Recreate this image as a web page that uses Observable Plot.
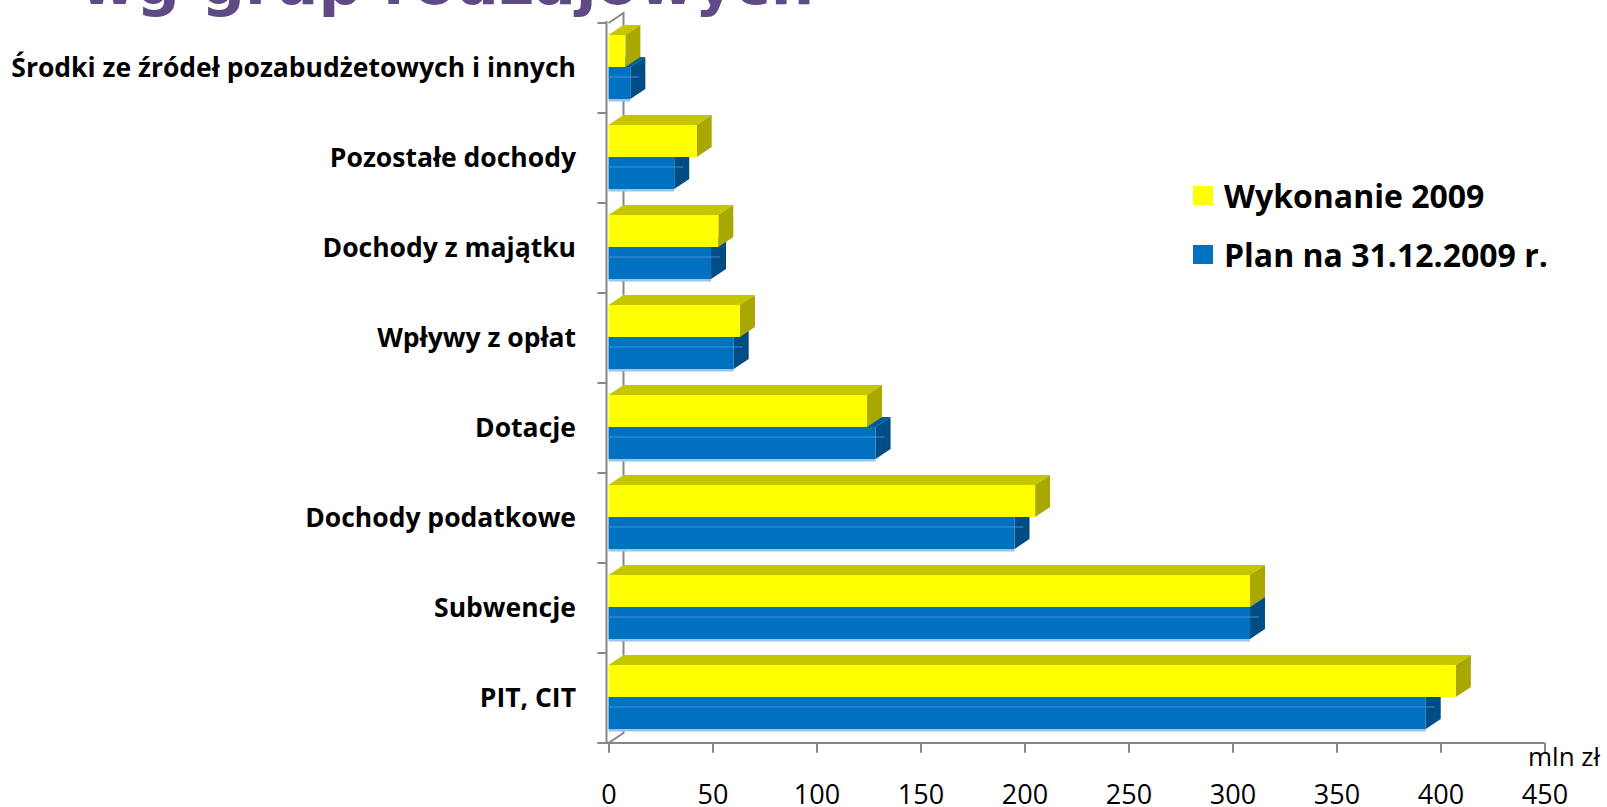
<!DOCTYPE html>
<html>
<head>
<meta charset="utf-8">
<script src="https://cdn.jsdelivr.net/npm/d3@7"></script>
<script src="https://cdn.jsdelivr.net/npm/@observablehq/plot@0.6"></script>
<style>
  html, body { margin: 0; padding: 0; background: #ffffff; overflow: hidden; }
  #wrap { position: relative; width: 1607px; height: 807px; font-family: "Open Sans", sans-serif; overflow: hidden; }
  #title { position: absolute; left: 80px; top: -48px; font-family: "DejaVu Sans", sans-serif; font-size: 61px; line-height: 61px; font-weight: 700; color: #5E4A84; white-space: nowrap; }
  #chart { position: absolute; left: 0; top: 0; }
  .legend { position: absolute; left: 1193px; display: flex; align-items: center; font-size: 32px; font-weight: 700; color: #000; white-space: nowrap; }
  .legend .sw { width: 20px; height: 19px; margin-right: 11px; }
  #unit { position: absolute; left: 1528px; top: 743px; font-size: 26px; line-height: 26px; color: #000; white-space: nowrap; }
  #chart g[aria-label="y-axis tick label"] text { font-weight: 700; }
</style>
</head>
<body>
<div id="wrap">
  <div id="title">wg grup rodzajowych</div>
  <div id="chart"></div>
  <div id="legend"></div>
  <div id="unit">mln zł</div>
</div>
<script>
// ---- data ----
const categories = [
  "Środki ze źródeł pozabudżetowych i innych",
  "Pozostałe dochody",
  "Dochody z majątku",
  "Wpływy z opłat",
  "Dotacje",
  "Dochody podatkowe",
  "Subwencje",
  "PIT, CIT"
];
const seriesNames = ["Wykonanie 2009", "Plan na 31.12.2009 r."];
const wykonanie = [8.1, 42.4, 52.8, 63.2, 124.3, 205.1, 308.4, 407.4];
const plan      = [10.5, 31.6, 49.3, 60.2, 128.4, 195.2, 308.4, 392.9];
const xTicks = [0, 50, 100, 150, 200, 250, 300, 350, 400, 450];
const unitLabel = "mln zł";

// ---- styling ----
const colors = {
  front: ["#FFFF00", "#0070C0"],
  top:   ["#C6C600", "#005A9C"],
  side:  ["#A8A800", "#004C85"],
  edge: "#9DC3E6",
  axis: "#878787"
};
const DX = 15, DY = 10;               // 3D depth (px)
const yelTop = 12, split = 44, bluBot = 76; // offsets inside a 90px band

const rowsW = categories.map((c, i) => ({cat: c, value: wykonanie[i]}));
const rowsP = categories.map((c, i) => ({cat: c, value: plan[i]}));

function poly(g, pts, fill) {
  g.append("path").attr("d", "M" + pts.map(p => p.join(",")).join("L") + "Z").attr("fill", fill);
}

// faces drawn behind the front faces
function backFaces(index, scales, values, dims) {
  const sx = scales.x, sy = scales.y;
  const bw = sy.bandwidth();
  const g = d3.create("svg:g");
  const x0 = sx(0);
  const yT = sy(categories[0]);
  const yB = sy(categories[categories.length - 1]) + bw;
  // back wall edge
  g.append("path")
    .attr("d", `M${x0},${yT}L${x0 + DX},${yT - DY}V${yB - DY}L${x0},${yB}`)
    .attr("fill", "none").attr("stroke", colors.axis).attr("stroke-width", 2);
  categories.forEach((c, i) => {
    const t = sy(c);
    const series = [
      {v: plan[i], y0: t + split, y1: t + bluBot, k: 1},
      {v: wykonanie[i], y0: t + yelTop, y1: t + split, k: 0}
    ];
    for (const s of series) {
      const b = sx(s.v);
      poly(g, [[x0, s.y0], [b, s.y0], [b + DX, s.y0 - DY], [x0 + DX, s.y0 - DY]], colors.top[s.k]);
      poly(g, [[b, s.y0], [b + DX, s.y0 - DY], [b + DX, s.y1 - DY], [b, s.y1]], colors.side[s.k]);
    }
  });
  return g.node();
}

// axis lines and ticks drawn on top
function frontAxes(index, scales, values, dims) {
  const sx = scales.x, sy = scales.y;
  const bw = sy.bandwidth();
  const g = d3.create("svg:g").attr("stroke", colors.axis).attr("stroke-width", 2).attr("fill", "none");
  const x0 = sx(0) - 2;
  const yT = sy(categories[0]) - 2;
  const yB = sy(categories[categories.length - 1]) + bw;
  // faint back-wall gridline seen across the blue bars
  categories.forEach((c, i) => {
    const y = sy(c) + bw / 2 + DY - 1;
    g.append("line").attr("x1", sx(0)).attr("x2", sx(plan[i]) + DX * 0.6)
      .attr("y1", y).attr("y2", y).attr("stroke", "#5E9AD2").attr("stroke-width", 1).attr("opacity", 0.8);
  });
  g.append("line").attr("x1", x0).attr("x2", x0).attr("y1", yT).attr("y2", yB);
  g.append("line").attr("x1", x0 - 9).attr("x2", sx(xTicks[xTicks.length - 1])).attr("y1", yB).attr("y2", yB);
  const bounds = categories.map(c => sy(c)).concat([yB]);
  bounds.forEach(y => g.append("line").attr("x1", x0 - 9).attr("x2", x0).attr("y1", y).attr("y2", y));
  return g.node();
}

const plot = Plot.plot({
  width: 1607,
  height: 807,
  marginLeft: 608.5,
  marginRight: 62.5,
  marginTop: 22.7,
  marginBottom: 64.3,
  style: {fontFamily: "Open Sans, sans-serif", background: "transparent", color: "#000"},
  x: {domain: [xTicks[0], xTicks[xTicks.length - 1]], axis: null},
  y: {domain: categories, padding: 0, axis: null},
  marks: [
    backFaces,
    Plot.barX(rowsW, {x: "value", y: "cat", fill: colors.front[0], insetTop: yelTop, insetBottom: 90 - split}),
    Plot.barX(rowsP, {x: "value", y: "cat", fill: colors.front[1], insetTop: split, insetBottom: 90 - bluBot}),
    Plot.barX(rowsP, {x: "value", y: "cat", fill: colors.edge, insetTop: bluBot, insetBottom: 90 - bluBot - 2.5}),
    frontAxes,
    Plot.axisX({ticks: xTicks, tickSize: 10, tickPadding: 32, fontSize: 27, stroke: colors.axis, strokeWidth: 2, fill: "#000", label: null, tickFormat: d => String(d)}),
    Plot.axisY({tickSize: 0, tickPadding: 33, fontSize: 26.5, fontWeight: 700, fill: "#000", label: null})
  ]
});
document.getElementById("chart").append(plot);

// legend
const legend = document.getElementById("legend");
const legendTops = [174, 233];
seriesNames.forEach((name, i) => {
  const item = document.createElement("div");
  item.className = "legend";
  item.style.top = legendTops[i] + "px";
  item.innerHTML = `<span class="sw" style="background:${colors.front[i]}"></span><span>${name}</span>`;
  legend.append(item);
});
document.getElementById("unit").textContent = unitLabel;
</script>
</body>
</html>
